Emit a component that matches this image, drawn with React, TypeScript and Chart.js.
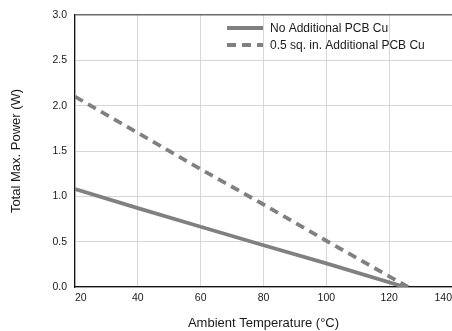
import React, { useEffect, useRef } from "react";
import { Chart, registerables } from "chart.js";

Chart.register(...registerables);

const solidTemps = [20, 40, 60, 80, 100, 125];
const solidPower = [1.08, 0.87, 0.665, 0.46, 0.26, 0];
const dashedTemps = [20, 40, 60, 80, 100, 126];
const dashedPower = [2.1, 1.7, 1.3, 0.91, 0.51, 0];
const seriesLabels = ["No Additional PCB Cu", "0.5 sq. in. Additional PCB Cu"];
const xTitle = "Ambient Temperature (°C)";
const yTitle = "Total Max. Power (W)";

const LINE = "#808080";
const FONT = "'Liberation Sans', Arial, sans-serif";

const legendPlugin = {
  id: "insideLegend",
  afterDraw(chart: any) {
    const ctx = chart.ctx;
    ctx.save();
    const rows = [28, 45];
    chart.data.datasets.forEach((ds: any, i: number) => {
      const y = rows[i];
      ctx.strokeStyle = LINE;
      ctx.lineWidth = 3.8;
      ctx.setLineDash(ds.borderDash || []);
      ctx.beginPath();
      ctx.moveTo(227, y);
      ctx.lineTo(263, y);
      ctx.stroke();
      ctx.setLineDash([]);
      ctx.fillStyle = "#1a1a1a";
      ctx.font = `12px ${FONT}`;
      ctx.textBaseline = "middle";
      ctx.textAlign = "left";
      ctx.fillText(ds.label, 270, y + 0.5);
    });
    ctx.restore();
  },
};

export default function App() {
  const ref = useRef<HTMLCanvasElement>(null);
  useEffect(() => {
    document.body.style.margin = "0";
    const chart = new Chart(ref.current!, {
      type: "line",
      data: {
        datasets: [
          {
            label: seriesLabels[0],
            data: solidTemps.map((x, i) => ({ x, y: solidPower[i] })),
            borderColor: LINE,
            borderWidth: 3.8,
            pointRadius: 0,
            fill: false,
          },
          {
            label: seriesLabels[1],
            data: dashedTemps.map((x, i) => ({ x, y: dashedPower[i] })),
            borderColor: LINE,
            borderWidth: 3.8,
            borderDash: [9, 6],
            pointRadius: 0,
            fill: false,
          },
        ],
      },
      options: {
        animation: false,
        responsive: true,
        maintainAspectRatio: false,
        layout: { padding: { top: 15, left: 0, right: 0, bottom: 0 } },
        plugins: { legend: { display: false }, tooltip: { enabled: false } },
        scales: {
          x: {
            type: "linear",
            min: 20,
            max: 140,
            ticks: {
              stepSize: 20,
              padding: 5,
              maxRotation: 0,
              align: "inner",
              color: "#1a1a1a",
              font: { family: FONT, size: 10.5 },
            },
            grid: { color: "#d6d6d6", drawTicks: false, lineWidth: 1 },
            border: { display: true, color: "#111", width: 1.2 },
            title: {
              display: true,
              text: xTitle,
              color: "#1a1a1a",
              font: { family: FONT, size: 13 },
              padding: { top: 4, bottom: 0 },
            },
            afterFit: (scale: any) => {
              scale.height = 44;
              scale.paddingRight = 0;
            },
          },
          y: {
            min: 0,
            max: 3,
            ticks: {
              stepSize: 0.5,
              padding: 8,
              color: "#1a1a1a",
              font: { family: FONT, size: 10.5 },
              callback: (v: any) => Number(v).toFixed(1),
            },
            grid: {
              drawTicks: false,
              color: (c: any) => (c.tick && c.tick.value === 3 ? "#6a6a6a" : "#d6d6d6"),
              lineWidth: (c: any) => (c.tick && c.tick.value === 3 ? 1.5 : 1),
            },
            border: { display: true, color: "#111", width: 1.2 },
            title: {
              display: true,
              text: yTitle,
              color: "#1a1a1a",
              font: { family: FONT, size: 13 },
              padding: { top: 9, bottom: 4 },
            },
            afterFit: (scale: any) => {
              scale.width = 75;
            },
          },
        },
      },
      plugins: [legendPlugin],
    } as any);
    return () => chart.destroy();
  }, []);
  return (
    <div style={{ position: "relative", width: 452, height: 331 }}>
      <canvas ref={ref} />
    </div>
  );
}
